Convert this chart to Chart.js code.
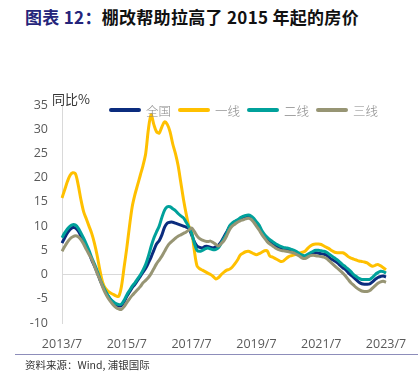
<!DOCTYPE html>
<html>
<head>
<meta charset="utf-8">
<script src="https://cdn.jsdelivr.net/npm/chart.js@4.4.1/dist/chart.umd.min.js"></script>
<style>
  html, body { margin: 0; padding: 0; background: #fff; }
  body { width: 418px; height: 387px; position: relative; overflow: hidden; font-family: "Noto Sans CJK SC", sans-serif; }
  #title { position: absolute; left: 25px; top: 4px; font-size: 17px; font-weight: bold; color: #111; white-space: nowrap; letter-spacing: 0.3px; }
  #title .num { color: #24247a; }
  #wrap { position: absolute; left: 0; top: 0; width: 418px; height: 387px; }
  #unit { position: absolute; left: 52px; top: 89px; font-size: 13px; color: #333; }
  #legend { position: absolute; left: 109px; top: 102px; height: 16px; display: flex; align-items: center; }
  .item { display: flex; align-items: center; margin-right: 7px; }
  .swatch { width: 32px; height: 4px; border-radius: 2px; margin-right: 5px; }
  .lbl { font-size: 12.5px; font-weight: 300; color: #888; }
  #rule { position: absolute; left: 15px; right: 0; top: 354px; border-top: 1px solid #8d8dba; }
  #source { position: absolute; left: 25px; top: 357px; font-size: 10.5px; color: #333; }
</style>
</head>
<body>
<div id="title"><span class="num">图表 12：</span>棚改帮助拉高了 2015 年起的房价</div>
<div id="wrap"><canvas id="c"></canvas></div>
<div id="unit">同比%</div>
<div id="legend"></div>
<div id="rule"></div>
<div id="source">资料来源：Wind, 浦银国际</div>
<script>
// 月度数据 2013/7 - 2023/7
const months = [];
for (let y = 2013, m = 7; y < 2023 || (y === 2023 && m <= 7); m++) {
  if (m > 12) { m = 1; y++; }
  months.push(y + '/' + m);
}
const tickLabels = ['2013/7', '2015/7', '2017/7', '2019/7', '2021/7', '2023/7'];

const seriesNames = ['全国', '一线', '二线', '三线'];
const seriesColors = ['#0b2c7e', '#ffc000', '#00a19b', '#979574'];

const national = [
  6.5, 7.6, 8.6, 9.3, 9.7, 9.6, 9.0, 8.0, 7.0, 5.8,
  4.5, 3.0, 1.8, 0.5, -1.0, -2.3, -3.4, -4.4, -5.2, -5.8,
  -6.3, -6.5, -6.4, -5.6, -4.5, -3.6, -2.7, -2.0, -1.2, -0.4,
  0.5, 1.3, 2.4, 3.6, 5.0, 6.3, 7.0, 8.2, 9.8, 10.6,
  10.8, 10.8, 10.6, 10.4, 10.2, 10.0, 9.8, 9.5, 8.2, 6.8,
  5.9, 5.6, 5.5, 5.8, 5.8, 5.6, 5.5, 5.7, 6.1, 6.8,
  7.8, 8.8, 9.8, 10.4, 10.9, 11.2, 11.4, 11.6, 11.8, 11.9,
  11.7, 11.2, 10.4, 9.7, 8.7, 8.0, 7.3, 6.8, 6.4, 6.0,
  5.7, 5.5, 5.3, 5.1, 5.0, 4.8, 4.5, 4.3, 4.0, 3.7,
  3.6, 3.9, 4.2, 4.4, 4.5, 4.4, 4.3, 4.2, 4.0, 3.5,
  3.1, 2.8, 2.4, 1.9, 1.4, 1.0, 0.4, -0.1, -0.6, -1.1,
  -1.6, -1.9, -2.0, -2.0, -1.9, -1.5, -1.0, -0.6, -0.4, -0.3,
  -0.5
];
const tier1 = [
  15.8, 17.5, 19.2, 20.5, 21.0, 20.8, 18.5, 15.5, 13.0, 11.5,
  10.0, 8.5, 6.5, 4.0, 1.0, -1.5, -2.8, -3.4, -3.8, -4.1,
  -4.4, -4.5, -2.5, 1.5, 5.5, 10.0, 14.0, 16.5, 18.5, 20.5,
  22.5, 25.0, 30.0, 33.0, 31.0, 29.5, 29.2, 30.5, 31.5, 31.0,
  29.5, 27.0, 25.0, 22.5, 19.0, 15.5, 12.5, 10.0, 9.0, 5.0,
  1.8, 1.2, 0.9, 0.6, 0.3, 0.0, -0.4, -0.9, -0.6, 0.0,
  0.5, 0.9, 1.1, 1.5, 2.2, 3.0, 4.0, 4.4, 4.7, 4.8,
  4.6, 4.3, 4.1, 4.3, 4.6, 4.9, 4.9, 3.8, 3.6, 3.3,
  3.0, 2.7, 2.8, 3.3, 3.7, 3.9, 4.1, 4.2, 4.4, 4.6,
  4.8, 5.4, 5.9, 6.2, 6.3, 6.3, 6.2, 5.9, 5.6, 5.3,
  4.9, 4.6, 4.5, 4.5, 4.5, 4.2, 3.7, 3.4, 3.2, 3.0,
  2.8, 2.7, 2.6, 2.4, 2.0, 1.7, 1.9, 2.1, 1.8, 1.4,
  1.0
];
const tier2 = [
  7.6, 8.6, 9.4, 10.0, 10.3, 10.2, 9.6, 8.6, 7.5, 6.3,
  5.0, 3.5, 2.2, 0.8, -0.8, -2.2, -3.3, -4.3, -5.1, -5.6,
  -6.0, -6.2, -6.1, -5.3, -4.2, -3.3, -2.4, -1.7, -0.9, -0.1,
  0.9, 2.1, 3.8, 5.8, 7.5, 8.8, 10.0, 11.8, 13.3, 14.0,
  14.0, 13.6, 13.2, 12.6, 12.1, 11.7, 10.8, 9.8, 8.6, 6.5,
  5.0, 4.8, 5.0, 5.3, 5.5, 5.3, 5.1, 5.2, 5.6, 6.5,
  7.5, 8.5, 10.0, 10.6, 11.0, 11.3, 11.7, 12.0, 12.2, 12.3,
  12.1, 11.6, 10.9, 10.2, 9.1, 8.3, 7.7, 7.2, 6.8, 6.4,
  6.1, 5.8, 5.6, 5.5, 5.4, 5.2, 5.0, 4.7, 4.3, 4.0,
  3.9, 4.2, 4.5, 4.8, 5.0, 5.0, 4.9, 4.8, 4.6, 4.2,
  3.8, 3.4, 3.0, 2.5, 2.0, 1.6, 1.1, 0.6, 0.0, -0.4,
  -0.8, -1.0, -1.0, -1.0, -1.0, -0.6, 0.0, 0.4, 0.7, 0.6,
  0.3
];
const tier3 = [
  4.8, 5.8, 6.7, 7.4, 7.8, 8.0, 7.8, 7.2, 6.3, 5.2,
  4.2, 3.2, 1.8, 0.3, -1.0, -2.5, -3.8, -4.8, -5.6, -6.3,
  -6.8, -7.1, -7.2, -6.6, -5.8, -5.0, -4.3, -3.7, -3.1, -2.5,
  -1.7, -1.2, -0.6, 0.2, 1.2, 2.2, 3.0, 3.8, 4.8, 5.8,
  6.5, 7.0, 7.5, 7.9, 8.2, 8.5, 8.8, 9.2, 9.6, 8.9,
  8.0, 7.4, 7.1, 6.9, 6.8, 6.9, 6.6, 6.2, 5.9, 6.4,
  7.0, 8.0, 9.2, 10.0, 10.4, 10.8, 11.1, 11.3, 11.5, 11.6,
  11.4, 10.8, 10.0, 9.2, 8.3, 7.5, 6.8, 6.3, 5.9, 5.5,
  5.2, 5.0, 4.9, 4.8, 4.7, 4.6, 4.4, 4.1, 3.8, 3.4,
  3.3, 3.6, 3.9, 4.0, 3.9, 3.8, 3.7, 3.6, 3.3, 2.8,
  2.3, 1.8, 1.3, 0.8, 0.3, -0.3, -1.0, -1.7, -2.2, -2.7,
  -3.1, -3.4, -3.5, -3.5, -3.3, -2.8, -2.3, -1.8, -1.5, -1.4,
  -1.6
];
const seriesData = [national, tier1, tier2, tier3];

// 图例
const legendBox = document.getElementById('legend');
seriesNames.forEach((name, i) => {
  legendBox.innerHTML += `<div class="item"><div class="swatch" style="background:${seriesColors[i]}"></div><span class="lbl">${name}</span></div>`;
});

const tickFont = { family: '"Open Sans", "Liberation Sans", sans-serif', size: 12.5 };

new Chart(document.getElementById('c'), {
  type: 'line',
  data: {
    labels: months,
    datasets: seriesNames.map((name, i) => ({
      label: name,
      data: seriesData[i],
      borderColor: seriesColors[i],
      backgroundColor: seriesColors[i],
      borderWidth: 3,
      pointRadius: 0,
      tension: 0.3,
      order: 3 - i
    }))
  },
  options: {
    responsive: true,
    maintainAspectRatio: false,
    animation: false,
    layout: { padding: { left: 0, right: 32, top: 105, bottom: 34 } },
    plugins: { legend: { display: false }, tooltip: { enabled: false } },
    scales: {
      x: {
        offset: false,
        grid: { display: false },
        border: { display: false },
        afterFit: (s) => { s.height = 30; },
        ticks: {
          autoSkip: false, maxRotation: 0, minRotation: 0, padding: 6,
          color: '#595959', font: tickFont,
          callback: (v, i) => tickLabels.includes(months[i]) ? months[i] : ''
        }
      },
      y: {
        min: -10, max: 35,
        afterFit: (s) => { s.width = 62; },
        grid: {
          drawTicks: false,
          color: (ctx) => ctx.tick && ctx.tick.value === 0 ? '#d9d9d9' : 'rgba(0,0,0,0)'
        },
        border: { display: true, color: '#d9d9d9' },
        ticks: { stepSize: 5, padding: 14, color: '#595959', font: tickFont }
      }
    }
  }
});
</script>
</body>
</html>
